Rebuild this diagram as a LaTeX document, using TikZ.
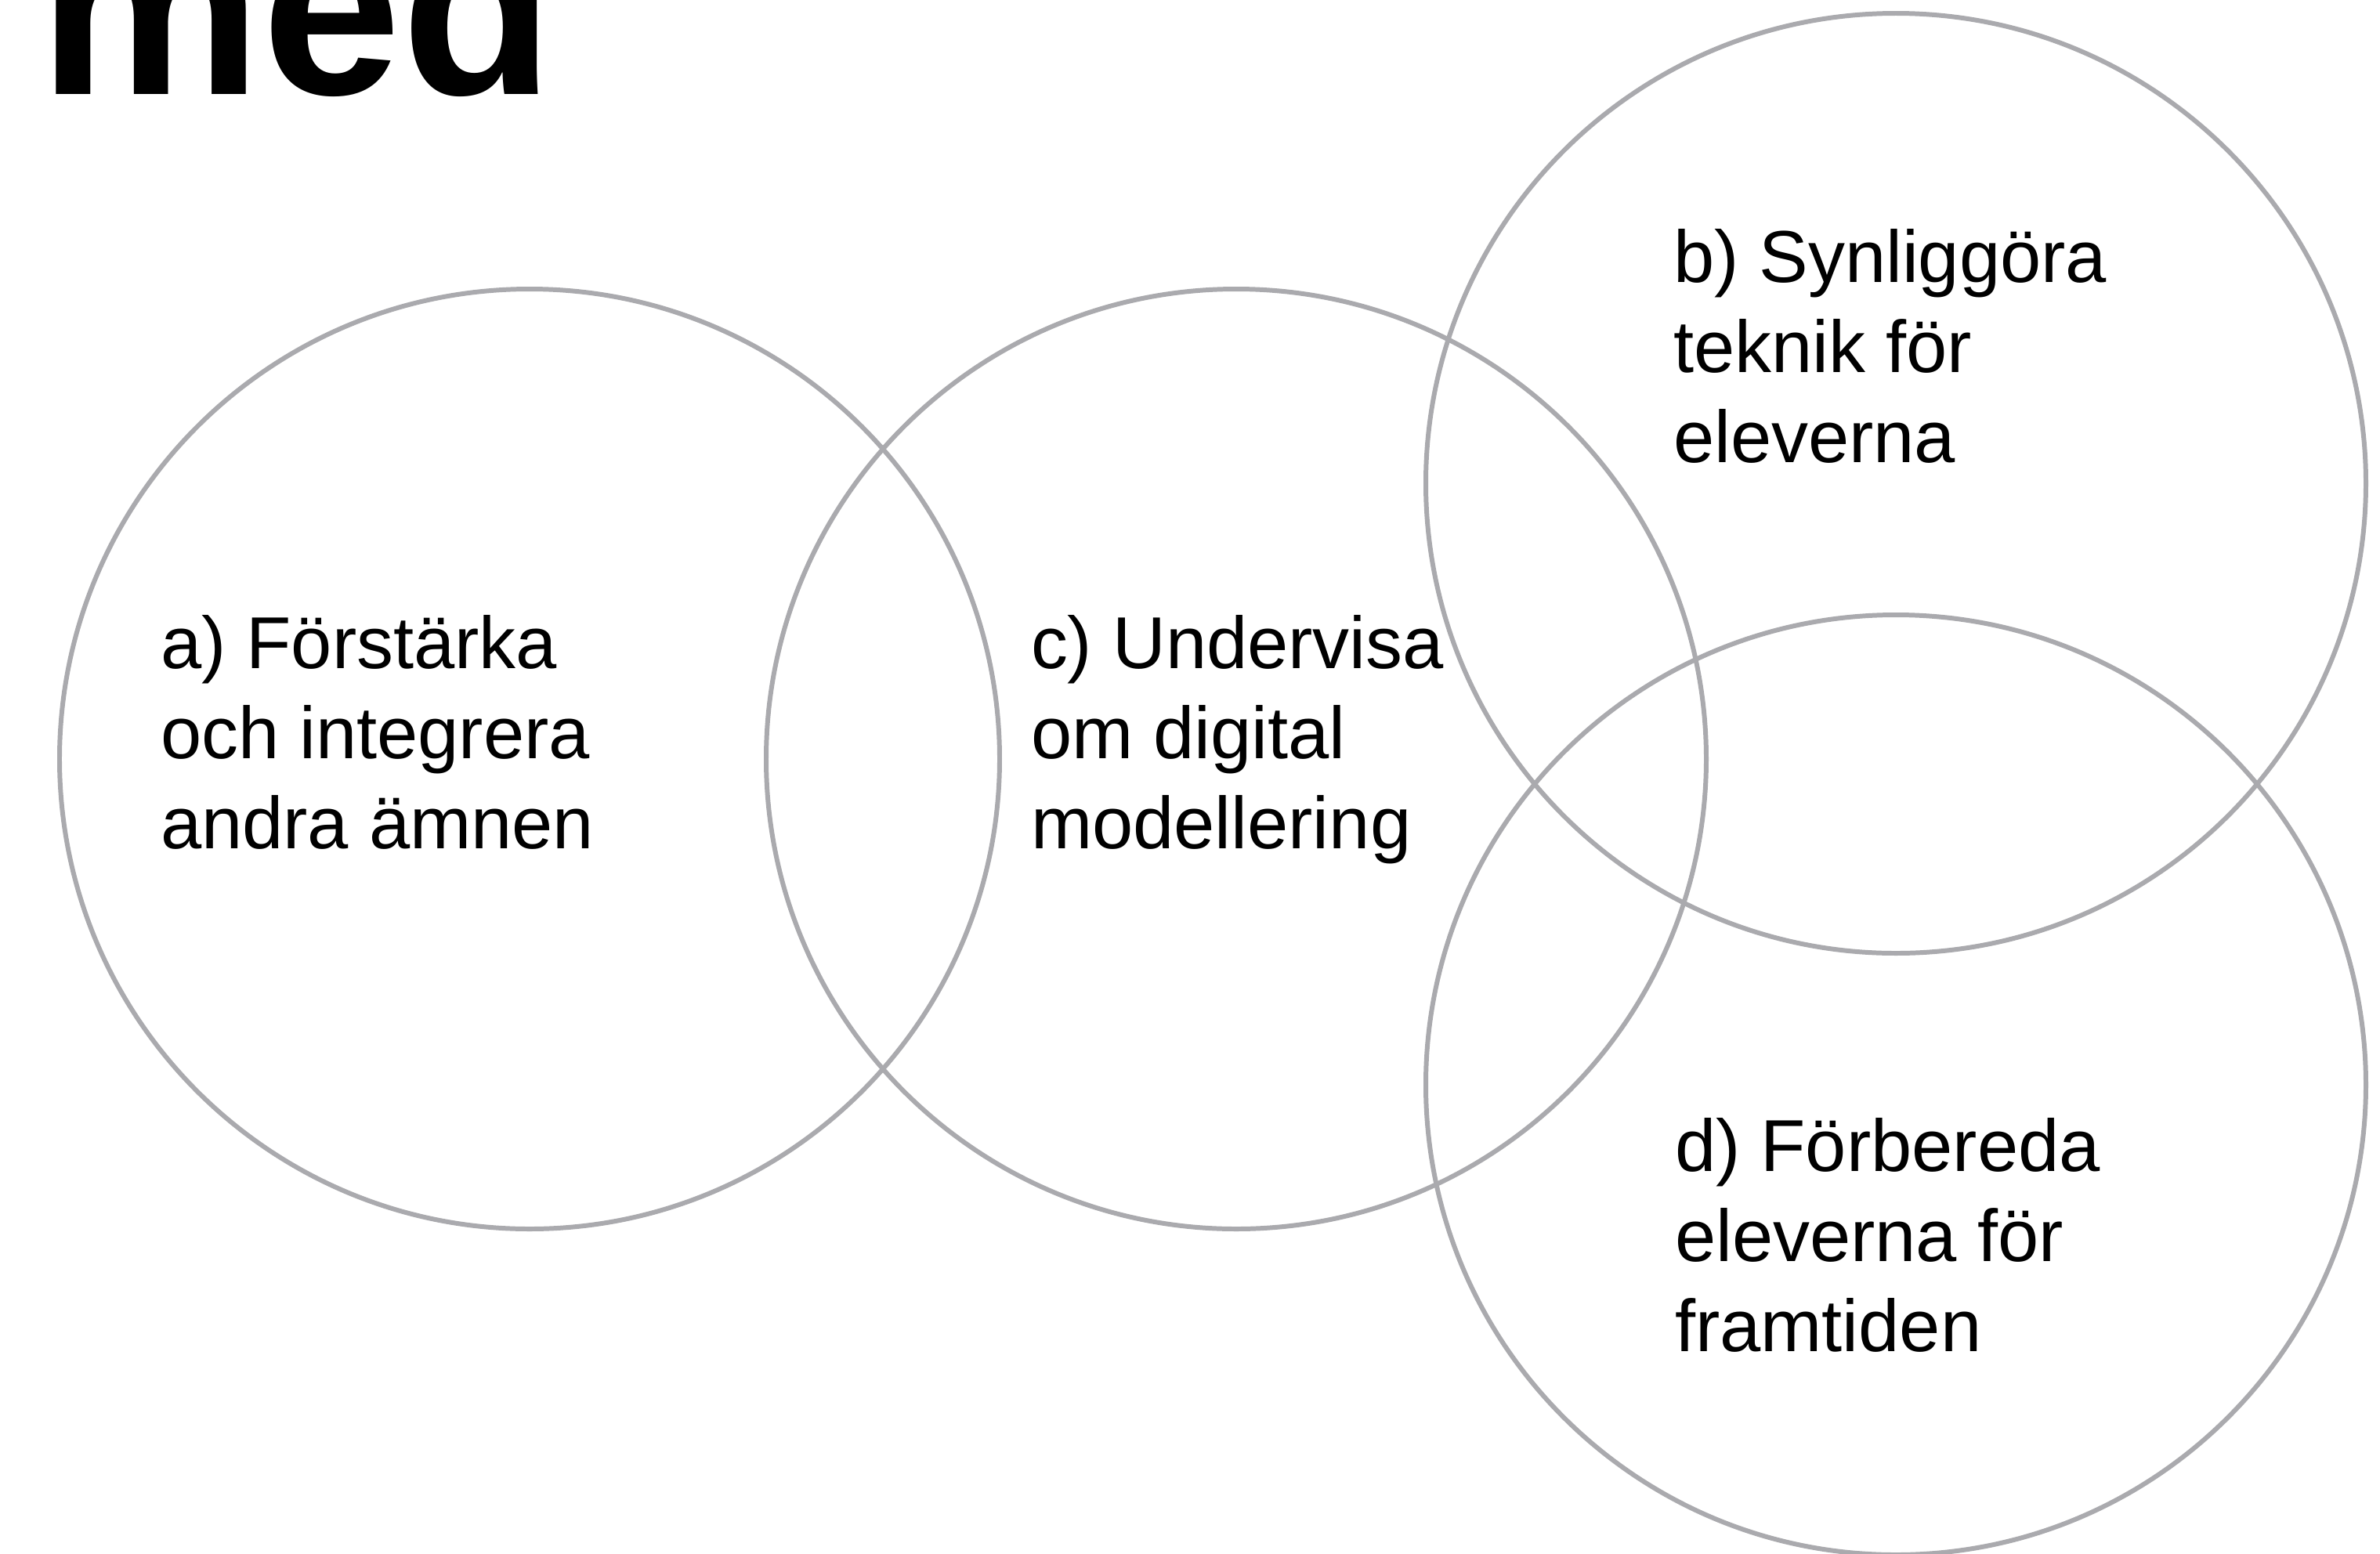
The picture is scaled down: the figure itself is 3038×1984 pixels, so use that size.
\documentclass[tikz,border=0pt]{standalone}
\usepackage{fontspec}
\setmainfont{Liberation Sans}
\definecolor{ringgray}{RGB}{170,170,174}
\begin{document}
\begin{tikzpicture}[x=0.01cm,y=-0.01cm,
  ring/.style={draw=ringgray,line width=1.7pt},
  label/.style={anchor=base west,inner sep=0pt,outer sep=0pt,align=left,
    font=\fontsize{26.7pt}{32.7pt}\selectfont},
  title/.style={anchor=base west,inner sep=0pt,outer sep=0pt,
    font=\fontsize{91pt}{100pt}\selectfont\bfseries}]
\useasboundingbox (0,0) rectangle (3038,1984);
\clip (0,0) rectangle (3038,1984);
\fill[white] (0,0) rectangle (3038,1984);
\node[title] (med) at (50,120) {med};
\draw[ring] (676,969) circle (600);
\draw[ring] (1578,969) circle (600);
\draw[ring] (2420,617) circle (600);
\draw[ring] (2420,1385) circle (600);
\node[label] (ta) at (205,1083) {a) Förstärka\\och integrera\\andra ämnen};
\node[label] (tc) at (1316,1083) {c) Undervisa\\om digital\\modellering};
\node[label] (tb) at (2136,590) {b) Synliggöra\\teknik för\\eleverna};
\node[label] (td) at (2138,1725) {d) Förbereda\\eleverna för\\framtiden};
\end{tikzpicture}
\end{document}
